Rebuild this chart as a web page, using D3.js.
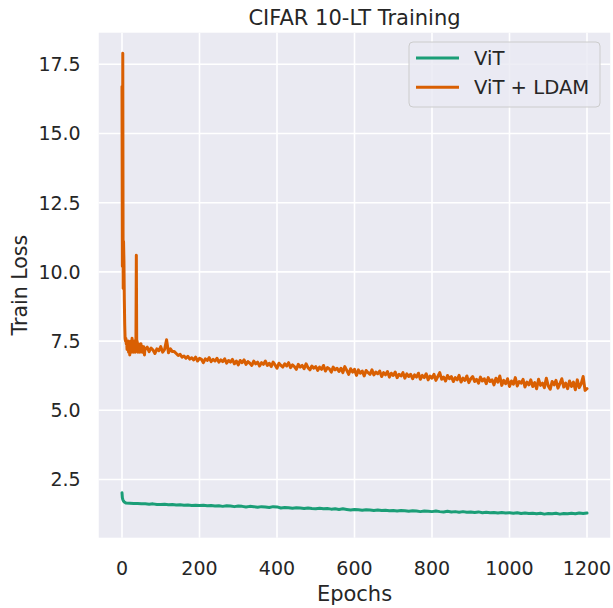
<!DOCTYPE html>
<html lang="en">
<head>
<meta charset="utf-8">
<title>CIFAR 10-LT Training</title>
<script src="https://cdn.jsdelivr.net/npm/d3@7"></script>
<style>
  body { margin: 0; background: #fff; }
  text { font-family: "DejaVu Sans", sans-serif; fill: #262626; }
</style>
</head>
<body>
<div id="chart"></div>
<script>
// ---- data ----
const seriesNames = ["ViT", "ViT + LDAM"];
const seriesColors = ["#1b9e77", "#d95f02"];
const xTicks = [0, 200, 400, 600, 800, 1000, 1200];
const yTicks = [2.5, 5.0, 7.5, 10.0, 12.5, 15.0, 17.5];

// ViT: epochs 0..9 one by one, then every 10 epochs from 10 to 1200
const vitEarly = [2.02, 1.84, 1.78, 1.75, 1.72, 1.70, 1.69, 1.68, 1.67, 1.66];
const vitLoss = [
  1.65, 1.64, 1.63, 1.63, 1.62, 1.62, 1.61, 1.62, 1.60, 1.60,
  1.61, 1.59, 1.60, 1.58, 1.59, 1.57, 1.58, 1.56, 1.57, 1.56,
  1.57, 1.55, 1.56, 1.54, 1.55, 1.53, 1.55, 1.54, 1.52, 1.54,
  1.53, 1.51, 1.53, 1.52, 1.50, 1.52, 1.51, 1.49, 1.52, 1.51,
  1.47, 1.49, 1.48, 1.46, 1.48, 1.47, 1.45, 1.47, 1.45, 1.44,
  1.46, 1.44, 1.45, 1.43, 1.44, 1.42, 1.44, 1.42, 1.40, 1.42,
  1.41, 1.39, 1.41, 1.40, 1.38, 1.40, 1.38, 1.39, 1.37, 1.38,
  1.36, 1.38, 1.37, 1.35, 1.37, 1.36, 1.34, 1.36, 1.35, 1.34,
  1.36, 1.34, 1.33, 1.35, 1.33, 1.34, 1.32, 1.34, 1.32, 1.33,
  1.31, 1.33, 1.30, 1.32, 1.30, 1.31, 1.29, 1.31, 1.29, 1.30,
  1.28, 1.30, 1.27, 1.29, 1.27, 1.28, 1.26, 1.28, 1.25, 1.27,
  1.26, 1.28, 1.25, 1.27, 1.26, 1.28, 1.26, 1.29, 1.27, 1.29
];

// ViT + LDAM: epochs 0..59 one by one, then every 5 epochs from 60 to 1200
const ldamEarly = [
  16.7, 10.2, 17.9, 9.4, 11.1, 10.4, 9.0, 8.1, 7.6, 7.5,
  7.6, 7.4, 7.5, 7.2, 7.4, 7.3, 7.5, 7.1, 7.3, 7.4,
  7.0, 7.3, 7.2, 7.5, 7.1, 7.3, 7.6, 7.2, 7.4, 7.1,
  7.3, 7.2, 7.5, 7.3, 7.1, 7.4, 7.6, 10.6, 7.3, 7.5,
  7.3, 7.1, 7.3, 7.4, 7.2, 7.3, 7.1, 7.3, 7.2, 7.4,
  7.2, 7.3, 7.1, 7.2, 7.3, 7.1, 7.3, 7.2, 7.0, 7.2
];
const ldamLoss = [
  7.20, 7.28, 7.12, 7.25, 7.18, 7.05, 7.22, 7.15, 7.30, 7.10, 7.20, 7.55, 7.08, 7.22, 7.12, 7.12, 7.05, 6.98, 7.02, 6.92,
  6.96, 6.88, 6.95, 6.85, 6.90, 6.82, 6.92, 6.78, 6.88, 6.84, 6.72, 6.86, 6.80, 6.90, 6.76, 6.84, 6.78, 6.88, 6.74, 6.82,
  6.76, 6.86, 6.70, 6.80, 6.74, 6.84, 6.68, 6.78, 6.64, 6.80, 6.72, 6.82, 6.66, 6.76, 6.70, 6.62, 6.78, 6.68, 6.74, 6.60,
  6.72, 6.66, 6.78, 6.62, 6.70, 6.58, 6.74, 6.64, 6.52, 6.70, 6.62, 6.56, 6.68, 6.60, 6.72, 6.54, 6.64, 6.58, 6.48, 6.66,
  6.56, 6.62, 6.50, 6.68, 6.54, 6.46, 6.60, 6.52, 6.58, 6.44, 6.56, 6.48, 6.62, 6.42, 6.54, 6.50, 6.38, 6.56, 6.46, 6.52,
  6.40, 6.52, 6.36, 6.58, 6.44, 6.30, 6.50, 6.38, 6.48, 6.26, 6.46, 6.34, 6.42, 6.24, 6.44, 6.36, 6.30, 6.46, 6.28, 6.38,
  6.32, 6.42, 6.22, 6.36, 6.28, 6.40, 6.20, 6.34, 6.26, 6.38, 6.18, 6.30, 6.24, 6.36, 6.16, 6.32, 6.22, 6.30, 6.14, 6.28,
  6.20, 6.34, 6.12, 6.26, 6.18, 6.32, 6.10, 6.24, 6.16, 6.30, 6.08, 6.22, 6.36, 6.12, 6.20, 6.06, 6.26, 6.14, 6.22, 6.04,
  6.18, 6.10, 6.26, 6.02, 6.16, 6.08, 6.24, 6.00, 6.14, 6.22, 6.04, 6.12, 5.98, 6.20, 6.06, 6.14, 5.96, 6.18, 6.04, 6.10,
  5.92, 6.16, 6.02, 6.24, 5.90, 6.08, 5.96, 6.14, 5.86, 6.06, 5.94, 6.18, 5.88, 6.04, 5.98, 6.12, 5.84, 6.02, 5.92, 6.10,
  5.86, 6.00, 5.78, 6.12, 5.90, 5.98, 5.82, 6.16, 5.88, 5.76, 6.04, 5.92, 6.08, 5.80, 5.96, 6.14, 5.84, 5.98, 5.78, 6.06,
  5.86, 6.02, 5.74, 6.10, 5.82, 5.96, 6.22, 5.72, 5.78
];

// ---- build point lists ----
const vitPoints = vitEarly.map((v, i) => [i, v])
  .concat(vitLoss.map((v, i) => [10 + 10 * i, v]));
const ldamPoints = ldamEarly.map((v, i) => [i, v])
  .concat(ldamLoss.map((v, i) => [60 + 5 * i, v]));
const series = [vitPoints, ldamPoints];

// ---- layout ----
const W = 613, H = 608;
const plot = { left: 98.75, right: 610.25, top: 32.7, bottom: 537.7 };

const x = d3.scaleLinear().domain([-60, 1260]).range([plot.left, plot.right]);
const y = d3.scaleLinear().domain([0.398, 18.64]).range([plot.bottom, plot.top]);

const svg = d3.select("#chart").append("svg")
  .attr("width", W).attr("height", H);

svg.append("rect").attr("width", W).attr("height", H).attr("fill", "#fff");

svg.append("rect")
  .attr("x", plot.left).attr("y", plot.top)
  .attr("width", plot.right - plot.left).attr("height", plot.bottom - plot.top)
  .attr("fill", "#eaeaf2");

svg.append("clipPath").attr("id", "clip")
  .append("rect")
  .attr("x", plot.left).attr("y", plot.top)
  .attr("width", plot.right - plot.left).attr("height", plot.bottom - plot.top);

// grid
svg.append("g").selectAll("line").data(xTicks).join("line")
  .attr("x1", d => x(d)).attr("x2", d => x(d))
  .attr("y1", plot.top).attr("y2", plot.bottom)
  .attr("stroke", "#fff").attr("stroke-width", 1.6);
svg.append("g").selectAll("line").data(yTicks).join("line")
  .attr("x1", plot.left).attr("x2", plot.right)
  .attr("y1", d => y(d)).attr("y2", d => y(d))
  .attr("stroke", "#fff").attr("stroke-width", 1.6);

// tick labels
svg.append("g").selectAll("text").data(xTicks).join("text")
  .attr("x", d => x(d)).attr("y", 575)
  .attr("text-anchor", "middle").style("font-size", "19px")
  .text(d => d);
svg.append("g").selectAll("text").data(yTicks).join("text")
  .attr("x", 80.7).attr("y", d => y(d)).attr("dy", "0.36em")
  .attr("text-anchor", "end").style("font-size", "19px")
  .text(d => d3.format(".1f")(d));

// lines
const line = d3.line().x(d => x(d[0])).y(d => y(d[1]));
svg.append("g").attr("clip-path", "url(#clip)")
  .selectAll("path").data(series).join("path")
  .attr("d", line)
  .attr("fill", "none")
  .attr("stroke", (d, i) => seriesColors[i])
  .attr("stroke-width", 3)
  .attr("stroke-linejoin", "round")
  .attr("stroke-linecap", "round");

// title and axis labels
svg.append("text").attr("x", (plot.left + plot.right) / 2).attr("y", 25)
  .attr("text-anchor", "middle").style("font-size", "21px")
  .text("CIFAR 10-LT Training");
svg.append("text").attr("x", (plot.left + plot.right) / 2).attr("y", 601)
  .attr("text-anchor", "middle").style("font-size", "21px")
  .text("Epochs");
svg.append("text")
  .attr("transform", `translate(27,${(plot.top + plot.bottom) / 2}) rotate(-90)`)
  .attr("text-anchor", "middle").style("font-size", "20.5px")
  .text("Train Loss");

// legend
const legend = svg.append("g").attr("transform", "translate(409,42)");
legend.append("rect")
  .attr("width", 191).attr("height", 65).attr("rx", 4)
  .attr("fill", "#eaeaf2").attr("fill-opacity", 0.8)
  .attr("stroke", "#cccccc").attr("stroke-width", 1);
const items = legend.selectAll("g.item").data(seriesNames).join("g")
  .attr("class", "item")
  .attr("transform", (d, i) => `translate(0,${16 + i * 29.3})`);
items.append("line")
  .attr("x1", 7).attr("x2", 50)
  .attr("stroke", (d, i) => seriesColors[i]).attr("stroke-width", 3);
items.append("text")
  .attr("x", 65).attr("dy", "0.36em").style("font-size", "19.6px")
  .text(d => d);
</script>
</body>
</html>
